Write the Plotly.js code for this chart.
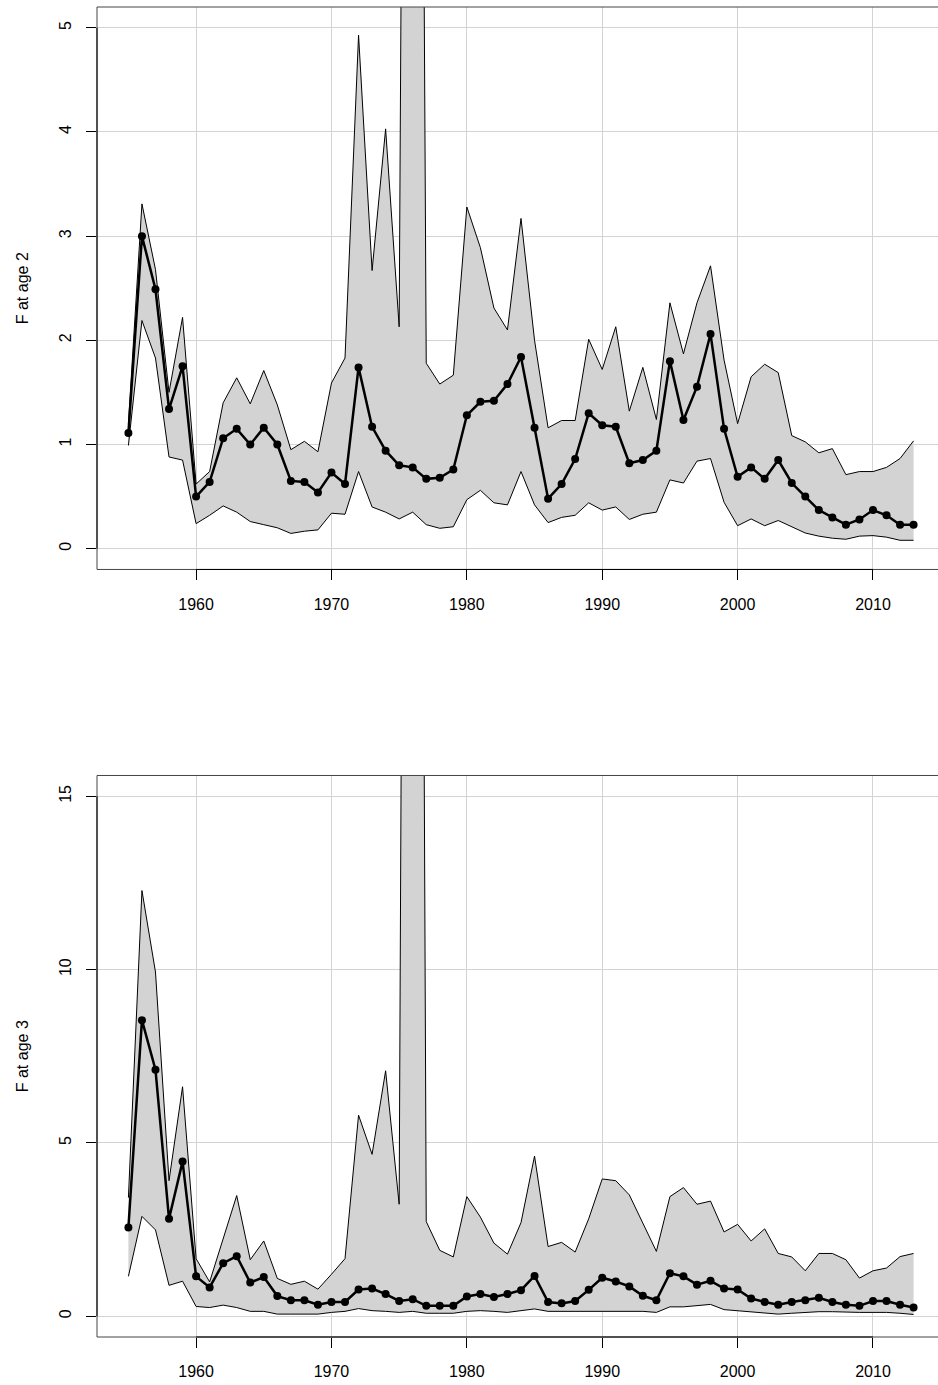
<!DOCTYPE html>
<html>
<head>
<meta charset="utf-8">
<script src="https://cdn.plot.ly/plotly-3.0.1.min.js"></script>
<style>
html,body{margin:0;padding:0;overflow:hidden;background:#fff;}
#chart{width:960px;height:1385px;}
</style>
</head>
<body>
<div id="chart"></div>
<script>
var years = [1955,1956,1957,1958,1959,1960,1961,1962,1963,1964,
             1965,1966,1967,1968,1969,1970,1971,1972,1973,1974,
             1975,1976,1977,1978,1979,1980,1981,1982,1983,1984,
             1985,1986,1987,1988,1989,1990,1991,1992,1993,1994,
             1995,1996,1997,1998,1999,2000,2001,2002,2003,2004,
             2005,2006,2007,2008,2009,2010,2011,2012,2013];

var f2Mean = [1.11,3.00,2.49,1.34,1.75,0.50,0.64,1.06,1.15,1.00,
              1.16,1.00,0.65,0.64,0.54,0.73,0.62,1.74,1.17,0.94,
              0.80,0.78,0.67,0.68,0.76,1.28,1.41,1.42,1.58,1.84,
              1.16,0.48,0.62,0.86,1.30,1.185,1.17,0.82,0.85,0.94,
              1.80,1.235,1.555,2.06,1.15,0.69,0.78,0.67,0.85,0.63,
              0.50,0.37,0.30,0.23,0.28,0.37,0.32,0.23,0.23];
var f2Upper = [1.20,3.31,2.68,1.50,2.22,0.62,0.74,1.40,1.64,1.39,
               1.71,1.38,0.95,1.03,0.93,1.59,1.83,4.93,2.67,4.03,
               2.13,25.0,1.78,1.58,1.665,3.28,2.89,2.31,2.10,3.17,
               2.00,1.16,1.23,1.23,2.01,1.72,2.13,1.32,1.74,1.24,
               2.36,1.87,2.36,2.715,1.81,1.20,1.65,1.77,1.69,1.085,
               1.025,0.92,0.96,0.71,0.74,0.74,0.78,0.865,1.035];
var f2Lower = [0.99,2.19,1.83,0.88,0.85,0.24,0.32,0.41,0.35,0.26,
               0.23,0.20,0.146,0.167,0.18,0.34,0.33,0.74,0.40,0.35,
               0.285,0.35,0.23,0.195,0.21,0.47,0.56,0.44,0.42,0.74,
               0.42,0.25,0.30,0.32,0.44,0.37,0.40,0.28,0.33,0.35,
               0.66,0.63,0.84,0.865,0.445,0.22,0.285,0.22,0.27,0.21,
               0.15,0.12,0.10,0.09,0.12,0.125,0.11,0.08,0.08];

var f3Mean = [2.56,8.54,7.11,2.81,4.46,1.15,0.83,1.53,1.73,0.97,
              1.13,0.58,0.46,0.46,0.33,0.41,0.41,0.77,0.80,0.64,
              0.44,0.49,0.30,0.30,0.30,0.57,0.64,0.555,0.64,0.75,
              1.16,0.41,0.37,0.44,0.76,1.11,1.00,0.86,0.59,0.46,
              1.24,1.15,0.91,1.02,0.80,0.77,0.51,0.41,0.33,0.41,
              0.46,0.53,0.41,0.33,0.30,0.44,0.44,0.33,0.25];
var f3Upper = [3.42,12.28,9.93,3.91,6.62,1.66,0.99,2.22,3.48,1.63,
               2.17,1.09,0.92,1.01,0.78,1.21,1.66,5.80,4.67,7.08,
               3.23,90.0,2.73,1.90,1.71,3.45,2.86,2.11,1.79,2.70,
               4.62,2.01,2.13,1.85,2.81,3.96,3.91,3.50,2.67,1.87,
               3.45,3.71,3.23,3.32,2.43,2.65,2.17,2.52,1.81,1.71,
               1.31,1.81,1.81,1.63,1.10,1.31,1.39,1.72,1.81];
var f3Lower = [1.15,2.88,2.49,0.89,1.01,0.28,0.25,0.32,0.25,0.14,
               0.14,0.06,0.06,0.06,0.06,0.11,0.14,0.22,0.16,0.14,
               0.11,0.14,0.085,0.085,0.085,0.14,0.16,0.14,0.11,0.16,
               0.21,0.14,0.14,0.14,0.16,0.16,0.16,0.16,0.14,0.11,
               0.27,0.27,0.30,0.34,0.19,0.16,0.11,0.085,0.06,0.085,
               0.11,0.13,0.13,0.11,0.11,0.11,0.11,0.085,0.05];

var xTicks = [1960,1970,1980,1990,2000,2010];
var y2Ticks = [0,1,2,3,4,5];
var y3Ticks = [0,5,10,15];
var yTitles = ["F at age 2","F at age 3"];

var FONT = "Liberation Sans, Arial, Helvetica, sans-serif";

function band(xa, ya, lo, hi, mid) {
  return [
    {x: years, y: lo, xaxis: xa, yaxis: ya, type: "scatter", mode: "lines",
     line: {color: "#000", width: 1}, hoverinfo: "skip", showlegend: false},
    {x: years, y: hi, xaxis: xa, yaxis: ya, type: "scatter", mode: "lines",
     fill: "tonexty", fillcolor: "#D3D3D3",
     line: {color: "#000", width: 1}, hoverinfo: "skip", showlegend: false},
    {x: years, y: mid, xaxis: xa, yaxis: ya, type: "scatter", mode: "lines+markers",
     line: {color: "#000", width: 2.5},
     marker: {color: "#000", size: 8, symbol: "circle"},
     showlegend: false, cliponaxis: true}
  ];
}

var data = [].concat(
  band("x", "y", f2Lower, f2Upper, f2Mean),
  band("x2", "y2", f3Lower, f3Upper, f3Mean)
);

function xax(anchor) {
  return {
    anchor: anchor, range: [1952.68, 2015.32], tickmode: "array", tickvals: xTicks,
    ticks: "outside", ticklen: 10, tickwidth: 1, tickcolor: "#000",
    showgrid: true, gridcolor: "#D3D3D3", gridwidth: 1,
    zeroline: false, showline: false,
    tickfont: {family: FONT, size: 16, color: "#000"},
    ticklabelstandoff: 10
  };
}
function yax(anchor, dom, rng, tv, title) {
  return {
    anchor: anchor, domain: dom, range: rng, tickmode: "array", tickvals: tv,
    ticks: "outside", ticklen: 10, tickwidth: 1, tickcolor: "#000",
    tickangle: -90,
    showgrid: true, gridcolor: "#D3D3D3", gridwidth: 1,
    zeroline: false, showline: false,
    tickfont: {family: FONT, size: 16, color: "#000"},
    ticklabelstandoff: 9,
    title: {text: title, font: {family: FONT, size: 16, color: "#000"}, standoff: 23}
  };
}

var shapes = [];
[["x","y",5],["x2","y2",15]].forEach(function (p) {
  var xd = p[0] + " domain", yd = p[1] + " domain";
  shapes.push({type: "rect", xref: xd, yref: yd, x0: 0, x1: 1, y0: 0, y1: 1,
               line: {color: "#444", width: 1}, layer: "above"});
  shapes.push({type: "line", xref: p[0], yref: yd, x0: xTicks[0], x1: xTicks[xTicks.length-1], y0: 0, y1: 0,
               line: {color: "#000", width: 1}, layer: "above"});
  shapes.push({type: "line", xref: xd, yref: p[1], x0: 0, x1: 0, y0: 0, y1: p[2],
               line: {color: "#000", width: 1}, layer: "above"});
});

var layout = {
  width: 960, height: 1385,
  margin: {l: 97, r: 14.5, t: 7, b: 48, pad: 0},
  paper_bgcolor: "#fff", plot_bgcolor: "#fff",
  showlegend: false,
  font: {family: FONT, size: 16, color: "#000"},
  xaxis: xax("y"),
  xaxis2: xax("y2"),
  yaxis: yax("x", [0.5771, 1], [-0.2, 5.2], y2Ticks, yTitles[0]),
  yaxis2: yax("x2", [0, 0.4222], [-0.6, 15.6], y3Ticks, yTitles[1]),
  shapes: shapes
};

Plotly.newPlot("chart", data, layout, {displayModeBar: false, staticPlot: true});
</script>
</body>
</html>
